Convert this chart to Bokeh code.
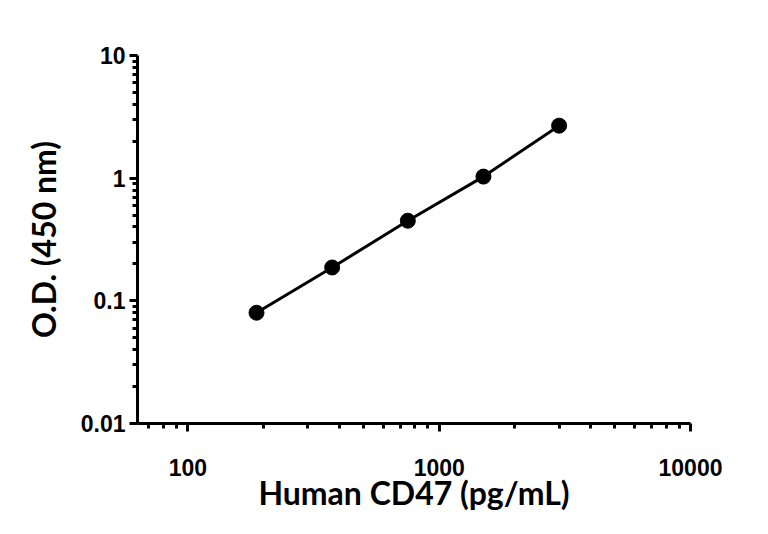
from bokeh.plotting import figure
from bokeh.models import Range1d, FixedTicker, ColumnDataSource
from bokeh.embed import file_html
from bokeh.resources import INLINE

# Data
concentration = [187.5, 375, 750, 1500, 3000]
od450 = [0.080, 0.187, 0.450, 1.03, 2.68]

x_major_ticks = [100, 1000, 10000]
y_major_ticks = [0.01, 0.1, 1, 10]

x_minor_ticks = [m * 10 ** e for e in range(1, 4) for m in range(2, 10)]
y_minor_ticks = [m * 10.0 ** e for e in range(-2, 1) for m in range(2, 10)]

src = ColumnDataSource(data=dict(x=concentration, y=od450))

p = figure(width=760, height=526, x_axis_type="log", y_axis_type="log",
           x_range=Range1d(63, 10000), y_range=Range1d(0.01, 10),
           output_backend="svg", toolbar_location=None,
           min_border_left=137, min_border_right=70,
           min_border_top=55, min_border_bottom=103)

p.outline_line_color = None
p.xgrid.visible = False
p.ygrid.visible = False
p.background_fill_color = "white"
p.border_fill_color = "white"

p.xaxis.ticker = FixedTicker(ticks=x_major_ticks, minor_ticks=x_minor_ticks)
p.yaxis.ticker = FixedTicker(ticks=y_major_ticks, minor_ticks=y_minor_ticks)
p.xaxis.major_label_overrides = {100: "100", 1000: "1000", 10000: "10000"}
p.yaxis.major_label_overrides = {0.01: "0.01", 0.1: "0.1", 1: "1", 10: "10"}

for ax in (p.xaxis, p.yaxis):
    ax.axis_line_width = 3
    ax.axis_line_color = "black"
    ax.major_tick_line_width = 3
    ax.minor_tick_line_width = 3
    ax.major_tick_line_color = "black"
    ax.minor_tick_line_color = "black"
    ax.major_tick_out = 8
    ax.major_tick_in = 0
    ax.minor_tick_out = 5
    ax.minor_tick_in = 0
    ax.major_label_text_font = "Liberation Sans"
    ax.major_label_text_font_style = "bold"
    ax.major_label_text_font_size = "23px"
    ax.major_label_text_color = "black"
    ax.axis_label_text_font = "Lato"
    ax.axis_label_text_font_style = "bold"
    ax.axis_label_text_font_size = "32px"
    ax.axis_label_text_color = "black"

p.xaxis.axis_label = "Human CD47 (pg/mL)"
p.yaxis.axis_label = "O.D. (450 nm)"
p.xaxis.major_label_standoff = 27
p.yaxis.major_label_standoff = 4
p.xaxis.axis_label_standoff = -6
p.yaxis.axis_label_standoff = 15

p.line("x", "y", source=src, line_color="black", line_width=3)
p.scatter("x", "y", source=src, size=15, fill_color="black", line_color="black")

open("out.html", "w").write(file_html(p, INLINE))
